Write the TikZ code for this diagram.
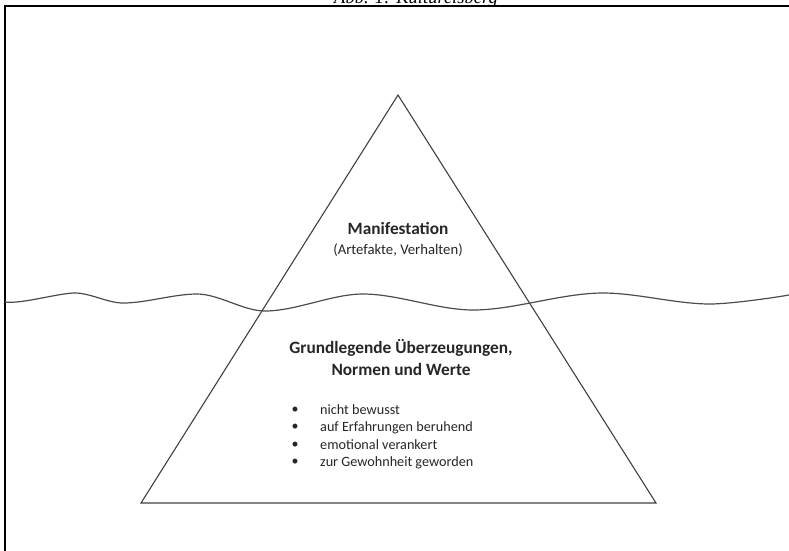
\documentclass[tikz,border=0pt]{standalone}
\usepackage{fontspec}
\setmainfont{Carlito}
\newfontfamily\titlefont{Liberation Serif}
\begin{document}
\begin{tikzpicture}[x=1pt,y=-1pt,
  frameline/.style={line width=1.4pt,black},
  edge/.style={line width=1.1pt,draw=black!75},
  wave/.style={line width=1.2pt,draw=black!70},
  headtxt/.style={font=\fontsize{17.3}{22}\selectfont\bfseries,align=center,inner sep=0pt,text=black!85},
  subtxt/.style={font=\fontsize{14.7}{17}\selectfont,align=center,inner sep=0pt,text=black!85},
  itemtxt/.style={font=\fontsize{14.2}{17}\selectfont,anchor=west,inner sep=0pt,text=black!85},
  bulletmark/.style={font=\fontsize{14}{17}\selectfont,inner sep=0pt,text=black!85}]
\useasboundingbox (0,0) rectangle (789,550);
% caption (cut off at top)
\node[font=\titlefont\itshape\fontsize{18.5}{20}\selectfont,anchor=base,inner sep=0pt] (title) at (416,3.5) {Abb. 1: Kultureisberg};
% frame
\coordinate (ftr) at (795,6);
\coordinate (ftl) at (5,6);
\coordinate (fbl) at (5,556);
\draw[frameline] (ftr) -- (ftl) -- (fbl);
% triangle
\coordinate (apex) at (398,95);
\coordinate (bl) at (141,503);
\coordinate (br) at (656,503);
\draw[edge,line join=miter] (apex) -- (br) -- (bl) -- cycle;
% water line
\coordinate (w0) at (5,302);
\coordinate (w1) at (75,293);
\coordinate (w2) at (123,303);
\coordinate (w3) at (197,294);
\coordinate (w4) at (265,311);
\coordinate (w5) at (363,294);
\coordinate (w6) at (473,310);
\coordinate (w7) at (603,293);
\coordinate (w8) at (710,304);
\coordinate (w9) at (789,295);
\draw[wave] (w0) to[out=-8,in=180,looseness=0.6] (w1)
  to[out=0,in=180,looseness=0.8] (w2)
  to[out=0,in=180,looseness=0.8] (w3)
  to[out=0,in=180,looseness=0.8] (w4)
  to[out=0,in=180,looseness=0.8] (w5)
  to[out=0,in=180,looseness=0.8] (w6)
  to[out=0,in=180,looseness=0.8] (w7)
  to[out=0,in=180,looseness=0.8] (w8)
  to[out=0,in=190,looseness=0.6] (w9);
% texts
\node[headtxt] (manif) at (398,228) {Manifestation};
\node[subtxt] (artef) at (398,250) {(Artefakte, Verhalten)};
\node[headtxt] (grund) at (401,358) {Grundlegende Überzeugungen,\\Normen und Werte};
\node[bulletmark] (b1) at (295,410) {•};
\node[bulletmark] (b2) at (295,427.5) {•};
\node[bulletmark] (b3) at (295,445) {•};
\node[bulletmark] (b4) at (295,462.5) {•};
\node[itemtxt] (i1) at (320,410) {nicht bewusst};
\node[itemtxt] (i2) at (320,427.5) {auf Erfahrungen beruhend};
\node[itemtxt] (i3) at (320,445) {emotional verankert};
\node[itemtxt] (i4) at (320,462.5) {zur Gewohnheit geworden};
\end{tikzpicture}
\end{document}
